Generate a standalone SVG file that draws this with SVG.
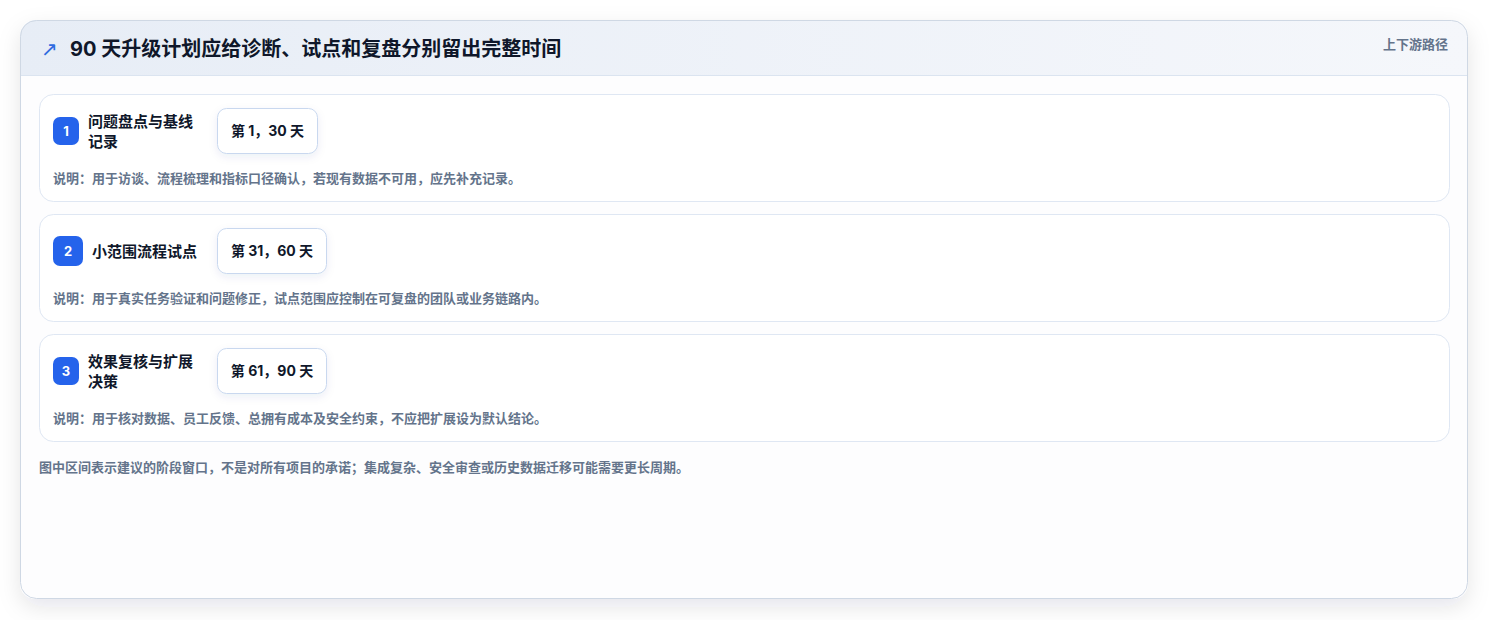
<svg xmlns="http://www.w3.org/2000/svg" width="1489" height="620" viewBox="0 0 1489 620">
<defs>
<linearGradient id="hdr" x1="0" y1="0" x2="1" y2="0">
<stop offset="0" stop-color="#e7edf6"/>
<stop offset="1" stop-color="#f5f7fb"/>
</linearGradient>
<filter id="sh" x="-5%" y="-10%" width="110%" height="125%">
<feDropShadow dx="0" dy="8" stdDeviation="11" flood-color="#0f172a" flood-opacity="0.10"/>
</filter>
<filter id="psh" x="-20%" y="-30%" width="140%" height="180%">
<feDropShadow dx="0" dy="3" stdDeviation="4" flood-color="#1e3a8a" flood-opacity="0.08"/>
</filter>
<clipPath id="outerClip"><rect x="20" y="20" width="1448" height="579" rx="16"/></clipPath>
<style>
text{font-family:"Inter","Noto Sans CJK SC",sans-serif}
.card{fill:#ffffff;stroke:#dfe7f3;stroke-width:1}
.badge{fill:#2563eb}
.bnum{fill:#ffffff;font-size:13px;font-weight:700;text-anchor:middle}
.ttl{fill:#0f172a;font-size:15px;font-weight:700}
.pill{fill:#ffffff;stroke:#c9d8ef;stroke-width:1}
.ptxt{fill:#0f172a;font-size:14px;font-weight:700;text-anchor:middle}
.desc{fill:#64748b;font-size:13px;font-weight:600}
</style>
</defs>
<rect width="1489" height="620" fill="#ffffff"/>
<g id="frame">
<rect x="20" y="20" width="1448" height="579" rx="16" fill="#fdfdfe" filter="url(#sh)"/>
<g clip-path="url(#outerClip)">
<rect x="20" y="20" width="1448" height="55" fill="url(#hdr)"/>
<line x1="20" y1="75.5" x2="1468" y2="75.5" stroke="#dbe4f0" stroke-width="1"/>
</g>
<rect x="20.5" y="20.5" width="1447" height="578" rx="16" fill="none" stroke="#cfd8e4" stroke-width="1"/>
</g>
<g id="header">
<text x="41" y="56" font-size="20" fill="#2f6be0" style="font-family:'DejaVu Sans',sans-serif">↗</text>
<text x="70" y="56" font-size="20" font-weight="700" fill="#0f172a">90 天升级计划应给诊断、试点和复盘分别留出完整时间</text>
<text x="1448" y="48.5" font-size="13" font-weight="600" fill="#64748b" text-anchor="end">上下游路径</text>
</g>
<g id="connectors"></g>
<g id="phase1">
<rect class="card" x="39.5" y="94.5" width="1410" height="107" rx="14"/>
<rect class="badge" x="53" y="117" width="26" height="28" rx="7"/>
<text class="bnum" x="66" y="135.5">1</text>
<text class="ttl" x="88" y="127">问题盘点与基线</text>
<text class="ttl" x="88" y="147">记录</text>
<rect class="pill" x="217.5" y="108.5" width="100" height="45" rx="9" filter="url(#psh)"/>
<text class="ptxt" x="267.5" y="135.5">第 1，30 天</text>
<text class="desc" x="53" y="183">说明：用于访谈、流程梳理和指标口径确认，若现有数据不可用，应先补充记录。</text>
</g>
<g id="phase2">
<rect class="card" x="39.5" y="214.5" width="1410" height="107" rx="14"/>
<rect class="badge" x="53" y="236" width="30" height="30" rx="7"/>
<text class="bnum" x="68" y="255.5">2</text>
<text class="ttl" x="92" y="256.5">小范围流程试点</text>
<rect class="pill" x="217.5" y="228.5" width="109" height="45" rx="9" filter="url(#psh)"/>
<text class="ptxt" x="272" y="256">第 31，60 天</text>
<text class="desc" x="53" y="303">说明：用于真实任务验证和问题修正，试点范围应控制在可复盘的团队或业务链路内。</text>
</g>
<g id="phase3">
<rect class="card" x="39.5" y="334.5" width="1410" height="107" rx="14"/>
<rect class="badge" x="53" y="357" width="26" height="28" rx="7"/>
<text class="bnum" x="66" y="375.5">3</text>
<text class="ttl" x="88" y="367">效果复核与扩展</text>
<text class="ttl" x="88" y="387">决策</text>
<rect class="pill" x="217.5" y="348.5" width="109" height="45" rx="9" filter="url(#psh)"/>
<text class="ptxt" x="272" y="376">第 61，90 天</text>
<text class="desc" x="53" y="423">说明：用于核对数据、员工反馈、总拥有成本及安全约束，不应把扩展设为默认结论。</text>
</g>
<g id="footnote">
<text class="desc" x="39" y="471.5">图中区间表示建议的阶段窗口，不是对所有项目的承诺；集成复杂、安全审查或历史数据迁移可能需要更长周期。</text>
</g>
</svg>
